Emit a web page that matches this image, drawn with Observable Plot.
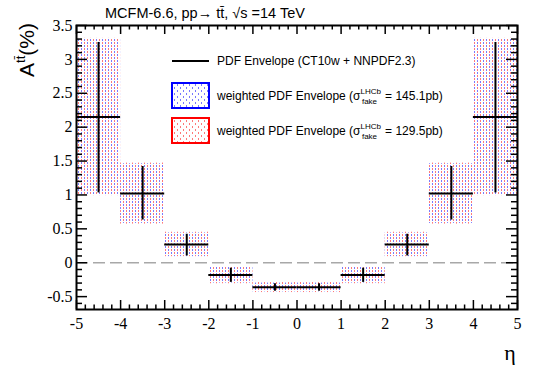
<!DOCTYPE html>
<html><head><meta charset="utf-8">
<script src="https://cdn.jsdelivr.net/npm/d3@7"></script>
<script src="https://cdn.jsdelivr.net/npm/@observablehq/plot@0.6"></script>
<style>
body{margin:0;background:#fff} svg{display:block}
.serifTxt, .serifTxt text { font-family: "Liberation Serif", "DejaVu Serif", "Times New Roman", serif !important; }
</style>
</head><body><div id="chart"></div>
<script>
// eta bins
const binLo = [-5, -4, -3, -2, -1, 0, 1, 2, 3, 4];
const binHi = [-4, -3, -2, -1, 0, 1, 2, 3, 4, 5];
// central value of A_tt (%)
const central = [2.15, 1.02, 0.27, -0.18, -0.36, -0.36, -0.18, 0.27, 1.02, 2.15];
// PDF envelope (CT10w + NNPDF2.3)
const envLo = [1.03, 0.63, 0.10, -0.29, -0.42, -0.42, -0.29, 0.10, 0.63, 1.03];
const envHi = [3.25, 1.42, 0.42, -0.08, -0.31, -0.31, -0.08, 0.42, 1.42, 3.25];
// weighted PDF envelope, sigma = 145.1 pb
const blueLo = [1.00, 0.58, 0.09, -0.30, -0.43, -0.43, -0.30, 0.09, 0.58, 1.00];
const blueHi = [3.30, 1.46, 0.44, -0.07, -0.30, -0.30, -0.07, 0.44, 1.46, 3.30];
// weighted PDF envelope, sigma = 129.5 pb
const redLo = [0.99, 0.57, 0.09, -0.31, -0.44, -0.44, -0.31, 0.09, 0.57, 0.99];
const redHi = [3.31, 1.47, 0.45, -0.06, -0.29, -0.29, -0.06, 0.45, 1.47, 3.31];

const xTicks = [-5, -4, -3, -2, -1, 0, 1, 2, 3, 4, 5];
const yTicks = [-0.5, 0, 0.5, 1, 1.5, 2, 2.5, 3, 3.5];

const rows = binLo.map((lo, i) => ({
  lo, hi: binHi[i], mid: (lo + binHi[i]) / 2, c: central[i],
  eLo: envLo[i], eHi: envHi[i], bLo: blueLo[i], bHi: blueHi[i], rLo: redLo[i], rHi: redHi[i]
}));

const xMinor = d3.range(-50, 51, 2).map(v => v / 10).filter(v => !xTicks.includes(v));
const yMinor = d3.range(-6, 36, 1).map(v => v / 10).filter(v => !yTicks.includes(v));

const W = 544, H = 369, mL = 76, mR = 27, mT = 25, mB = 60;
const iH = H - mT - mB, iW = W - mL - mR;

const chart = Plot.plot({
  width: W, height: H,
  marginLeft: mL, marginRight: mR, marginTop: mT, marginBottom: mB,
  x: {domain: [-5, 5]},
  y: {domain: [-0.69, 3.5]},
  style: {fontSize: "16px", color: "#000", background: "#fff"},
  marks: [
    Plot.rect(rows, {x1: "lo", x2: "hi", y1: "bLo", y2: "bHi", fill: "url(#pBlue)"}),
    Plot.rect(rows, {x1: "lo", x2: "hi", y1: "rLo", y2: "rHi", fill: "url(#pRed)"}),
    Plot.ruleY([0], {stroke: "#a8a8a8", strokeWidth: 1.6, strokeDasharray: "12,5"}),
    Plot.ruleY(rows, {x1: "lo", x2: "hi", y: "c", stroke: "#000", strokeWidth: 2}),
    Plot.ruleX(rows, {x: "mid", y1: "eLo", y2: "eHi", stroke: "#000", strokeWidth: 2}),
    // inward ticks
    Plot.tickX(xTicks, {x: d => d, insetTop: iH - 9, stroke: "#000", strokeWidth: 1.5}),
    Plot.tickX(xTicks, {x: d => d, insetBottom: iH - 9, stroke: "#000", strokeWidth: 1.5}),
    Plot.tickX(xMinor, {x: d => d, insetTop: iH - 4.5, stroke: "#000", strokeWidth: 1.5}),
    Plot.tickX(xMinor, {x: d => d, insetBottom: iH - 4.5, stroke: "#000", strokeWidth: 1.5}),
    Plot.tickY(yTicks, {y: d => d, insetRight: iW - 11, stroke: "#000", strokeWidth: 1.5}),
    Plot.tickY(yTicks, {y: d => d, insetLeft: iW - 11, stroke: "#000", strokeWidth: 1.5}),
    Plot.tickY(yMinor, {y: d => d, insetRight: iW - 6, stroke: "#000", strokeWidth: 1.5}),
    Plot.tickY(yMinor, {y: d => d, insetLeft: iW - 6, stroke: "#000", strokeWidth: 1.5}),
    Plot.frame({stroke: "#000", strokeWidth: 2}),
    Plot.axisX(xTicks, {tickSize: 0, tickPadding: 8, tickFormat: d => String(d), label: null, fontSize: 16, className: "serifTxt"}),
    Plot.axisY(yTicks, {tickSize: 0, tickPadding: 4, tickFormat: d => String(d), label: null, fontSize: 16, className: "serifTxt"})
  ]
});

const svg = d3.select(chart);
svg.selectAll('g[aria-label="x-axis tick label"], g[aria-label="y-axis tick label"]').classed("serifTxt", true);

const defs = svg.insert("defs", ":first-child");
function pattern(id, color, cells) {
  const p = defs.append("pattern").attr("id", id).attr("patternUnits", "userSpaceOnUse")
    .attr("width", 6).attr("height", 6);
  for (const [x, y] of cells)
    p.append("rect").attr("x", x).attr("y", y).attr("width", 1).attr("height", 2).attr("fill", color);
}
pattern("pBlue", "#7878ff", [[0, 3], [3, 0]]);
pattern("pRed", "#ff7878", [[0, 0], [3, 3]]);

const sans = "'Liberation Sans', Arial, sans-serif";
// title
svg.append("text").attr("x", 105).attr("y", 18).attr("text-anchor", "start").attr("font-family", sans).attr("font-size", 14.5)
  .attr("fill", "#000").text("MCFM-6.6, pp\u2192 tt\u0304, \u221As =14 TeV");
// y label
const yl = svg.append("text").attr("transform", "translate(34,23) rotate(-90)")
  .attr("text-anchor", "end").attr("font-family", sans).attr("font-size", 21).attr("fill", "#000");
yl.append("tspan").text("A");
yl.append("tspan").attr("font-size", 13).attr("dy", -9).text("tt\u0304");
yl.append("tspan").attr("dy", 9).text("(%)");
// x label
svg.append("text").attr("class", "serifTxt").attr("x", 510).attr("y", 360).attr("text-anchor", "middle")
  .attr("font-size", 22).attr("fill", "#000").text("\u03B7");

// legend
const lg = svg.append("g").attr("font-family", sans).attr("font-size", 12).attr("fill", "#000").attr("text-anchor", "start");
lg.append("line").attr("x1", 172).attr("x2", 209).attr("y1", 61).attr("y2", 61)
  .attr("stroke", "#000").attr("stroke-width", 2);
lg.append("text").attr("x", 217).attr("y", 65).text("PDF Envelope (CT10w + NNPDF2.3)");
const entries = [["pBlue", "#0000ff", 83, "145.1pb)"], ["pRed", "#ff0000", 118, "129.5pb)"]];
for (const [pid, col, y0, val] of entries) {
  lg.append("rect").attr("x", 172).attr("y", y0).attr("width", 37).attr("height", 25)
    .attr("fill", `url(#${pid})`).attr("stroke", col).attr("stroke-width", 2);
  const t = lg.append("text").attr("x", 217).attr("y", y0 + 17);
  t.append("tspan").text("weighted PDF Envelope (\u03C3");
  t.append("tspan").attr("font-size", 8).attr("dy", -6).text("LHCb");
  t.append("tspan").attr("font-size", 8).attr("dx", -19).attr("dy", 10).text("fake");
  t.append("tspan").attr("dy", -4).attr("dx", 8).text("= " + val);
}

document.getElementById("chart").appendChild(chart);
</script>
</body></html>
